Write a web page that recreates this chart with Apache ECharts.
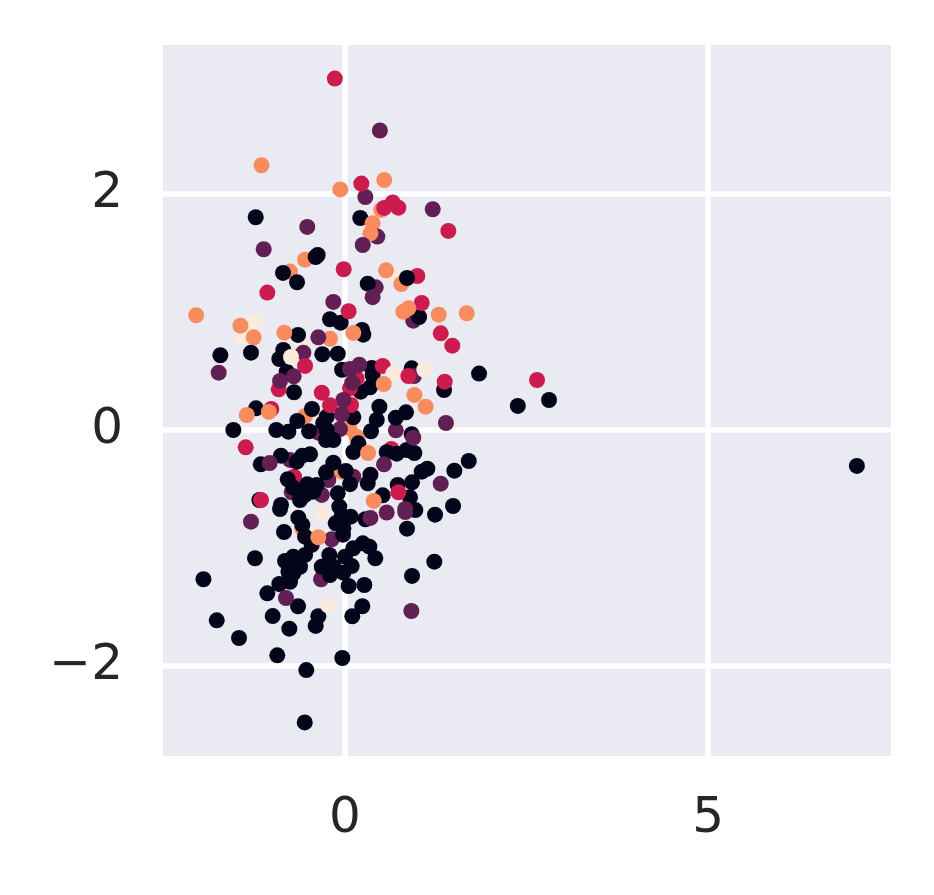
<!DOCTYPE html>
<html>
<head>
<meta charset="utf-8">
<style>html,body{margin:0;padding:0;background:#fff}#c{width:934px;height:895px}</style>
<script src="https://cdn.jsdelivr.net/npm/echarts@6/dist/echarts.min.js"></script>
</head>
<body>
<div id="c"></div>
<script>
// level: 0 black, 1 purple, 2 crimson, 3 orange, 4 cream
const palette = ['#03051a', '#611f53', '#cb1b4f', '#f98c5e', '#faebdd'];
const xTicks = [0, 5];
const yTicks = [-2, 0, 2];

// [x, y, level], earlier rows are painted first
const underMarks = [
[-.758,1.343,3],[-.55,1.444,3],[.689,1.295,4],[.996,1.306,2],[.776,1.238,3],[.423,1.21,1],[.94,.927,1],
[-1.415,.791,4],[-1.24,.913,4],[-.62,.735,3],[-.62,.74,4],[-.207,.774,3],[-.55,.119,3],[-.592,-.834,3],
[-.702,-.396,2],[-.734,-.528,1],[-.128,-.333,1],[-.23,-.424,1],[.114,-.396,1],[-.045,-.354,3],[.638,-.161,2],
[-.33,-1.266,1],[-.32,-.551,1],[-.183,-.927,1],[.06,.014,3],[.16,-.057,3],[.7,-.003,1],[-.069,.008,1],[-.368,-.023,1],
[-.758,-.254,1],[-1.18,-.594,0],[-1.157,-.594,2]
];
const darkMarks = [
[-1.23,1.804,0],[.21,1.798,0],[-.376,1.484,0],[-.404,1.467,0],[-.854,1.332,0],[-.661,1.253,0],[.313,1.241,0],[.854,1.289,0],
[1.02,.958,0],[-.207,.939,0],[-.06,.91,0],[.234,.848,0],[.252,.808,0],[-1.295,.656,0],[-1.717,.634,0],[-.647,.806,0],
[-.85,.679,0],[-.905,.602,0],[-.313,.642,0],[-.1,.647,0],[-.803,.494,0],[-.702,.32,0],[-.04,.511,0],[.38,.466,0],[.368,.526,0],
[.918,.523,0],[1.846,.478,0],[1.364,.339,0],[.344,.362,0],[.216,.325,0],[.473,.198,0],[.437,.085,0],[.84,.15,0],[.7,.104,0],
[.358,-.011,0],[.114,.108,0],[-.455,.178,0],[-.657,.076,0],[-1.226,.184,0],[-1.538,0,0],[-.946,0,0],[-.78,-.014,0],[-.496,-.011,0],
[-.252,.113,0],[-.3,.057,0],[-.252,0,0],[-.262,-.085,0],[-.161,-.085,0],[.184,-.113,0],[.114,-.187,0],[.918,-.036,0],
[.574,-.189,0],[.712,-.201,0],[.85,-.17,0],[.955,-.195,0],[1.704,-.263,0],[1.506,-.345,0],[1.134,-.328,0],[1.056,-.354,0],
[.923,-.444,0],[.726,-.466,0],[.895,-.571,0],[.519,-.554,0],[.969,-.679,0],[1.488,-.645,0],[1.24,-.718,0],[.854,-.837,0],[.28,-.757,0],
[.35,-.379,0],[.313,-.452,0],[.069,-.46,0],[.01,-.348,0],[-.161,-.277,0],[-.262,-.359,0],[-.1,-.537,0],[-.39,-.466,0],[-.52,-.46,0],
[-.437,-.523,0],[-.55,-.551,0],[-.62,-.594,0],[-.712,-.489,0],[-.789,-.418,0],[-.882,-.218,0],[-.665,-.269,0],[-.588,-.218,0],[-.482,-.206,0],
[-1.161,-.291,0],[-.882,-.636,0],[-.895,-.67,0],[-.84,-.865,0],[-.078,-.65,0],[-.045,-.735,0],[.078,-.735,0],[-.128,-.791,0],[-.023,-.834,0],
[-.643,-.744,0],[-.588,-.806,0],[-.55,-.905,0],[-.028,-.888,0],[-.459,-.975,0],[-.55,-1.06,0],[-.216,-1.06,0],[.114,-1.003,0],[.244,-.961,0],
[.335,-.99,0],[.417,-1.088,0],[0,-1.075,0],[.092,-1.154,0],[-.023,-1.21,0],[-.161,-1.16,0],[-.32,-1.16,0],[-.207,-1.23,0],[-1.24,-1.088,0],
[-1.95,-1.266,0],[1.23,-1.117,0],[.923,-1.238,0],[.05,-1.323,0],[.266,-1.315,0],[-.826,-1.111,0],[-.712,-1.075,0],[-.62,-1.16,0],[-.734,-1.131,0],
[-.78,-1.2,0],[-.712,-1.216,0],[-.758,-1.287,0],[-.905,-1.306,0],[-1.07,-1.385,0],[-.647,-1.495,0],[-.996,-1.578,0],[-.767,-1.685,0],[-.368,-1.58,0],
[-.404,-1.662,0],[.238,-1.495,0],[.1,-1.58,0],[-1.767,-1.614,0],[-1.46,-1.764,0],[-.933,-1.911,0],[-.037,-1.934,0],[-.533,-2.036,0],[-.555,-2.48,0],
[7.05,-.305,0],[2.38,.204,0],[2.81,.254,0]
];
const overMarks = [
[-.14,2.98,2],[.48,2.54,1],[-1.15,2.245,3],[.54,2.12,3],[.28,1.976,1],[.225,2.09,2],[-.065,2.04,3],[1.208,1.872,1],[.5,1.866,3],[.657,1.93,2],[.735,1.885,2],[.54,1.883,2],
[-.52,1.722,1],[.38,1.753,3],[1.423,1.688,2],[.445,1.64,1],[.35,1.668,3],[.244,1.569,1],[-1.12,1.533,1],[-.018,1.363,2],[.565,1.354,3],[.38,1.126,1],[-1.07,1.165,2],
[-.161,1.086,1],[.05,1.007,2],[1.056,1.077,2],[.873,1.032,3],[.803,1.003,3],[1.29,.978,3],[1.676,.99,3],[-2.05,.973,3],[-1.44,.885,3],[.114,.823,3],[-1.258,.786,3],
[-1.74,.486,1],[-.836,.825,3],[-.368,.786,1],[-.574,.656,1],[-.744,.619,4],[-.55,.543,2],[-.707,.455,1],[-.913,.345,2],[-.895,.416,1],[.519,.543,2],[.665,.478,4],[.95,.458,1],
[.872,.458,2],[1.092,.511,4],[1.373,.41,2],[.533,.39,3],[.16,.438,2],[.069,.354,2],[.069,.517,1],[.197,.554,1],[.1,.401,1],[-.32,.316,2],[.955,.297,3],[1.11,.198,3],[1.478,.715,2],
[1.318,.82,2],[.083,.212,2],[-.023,.254,1],[-.207,.21,2],[-.045,.133,1],[-1.015,.178,2],[-1.05,.153,3],[-1.354,.127,3],[-1.368,-.147,2],[.317,-.195,3],[.94,-.065,1],[1.39,.059,1],
[.537,-.291,1],[1.318,-.455,1],[.735,-.528,2],[.395,-.602,3],[.83,-.67,1],[.83,-.696,1],[.574,-.7,1],[.35,-.746,1],[-1.037,-.28,1],[-1.295,-.778,1],[-.303,-.71,4],[-.368,-.91,3],
[-.813,-1.425,1],[-.234,-1.487,4],[.914,-1.535,1],[2.645,.424,2]
];

const marks = underMarks.concat(darkMarks, overMarks);
const tickLabel = v => String(v).replace('-', '\u2212');
const labelFont = {fontFamily: 'DejaVu Sans', fontSize: 50, color: '#262626'};

function axis(type, min, max, ticks, margin) {
  return {
    type: 'value', min, max,
    axisLine: {show: false},
    axisTick: {show: false, customValues: ticks},
    axisLabel: Object.assign({customValues: ticks, margin, formatter: tickLabel}, labelFont),
    splitLine: {show: true, lineStyle: {color: '#ffffff', width: 5.5}}
  };
}

echarts.init(document.getElementById('c'), null, {renderer: 'canvas'}).setOption({
  animation: false,
  backgroundColor: '#ffffff',
  grid: {left: 163, right: 43, top: 45, bottom: 139, show: true, backgroundColor: '#eaeaf2', borderWidth: 0},
  xAxis: axis('x', -2.507, 7.52, xTicks, 38),
  yAxis: axis('y', -2.765, 3.265, yTicks, 40),
  series: [{
    type: 'scatter',
    data: marks,
    symbolSize: 16,
    large: false,
    silent: true,
    itemStyle: {color: p => palette[p.data[2]], opacity: 1}
  }]
});
</script>
</body>
</html>
